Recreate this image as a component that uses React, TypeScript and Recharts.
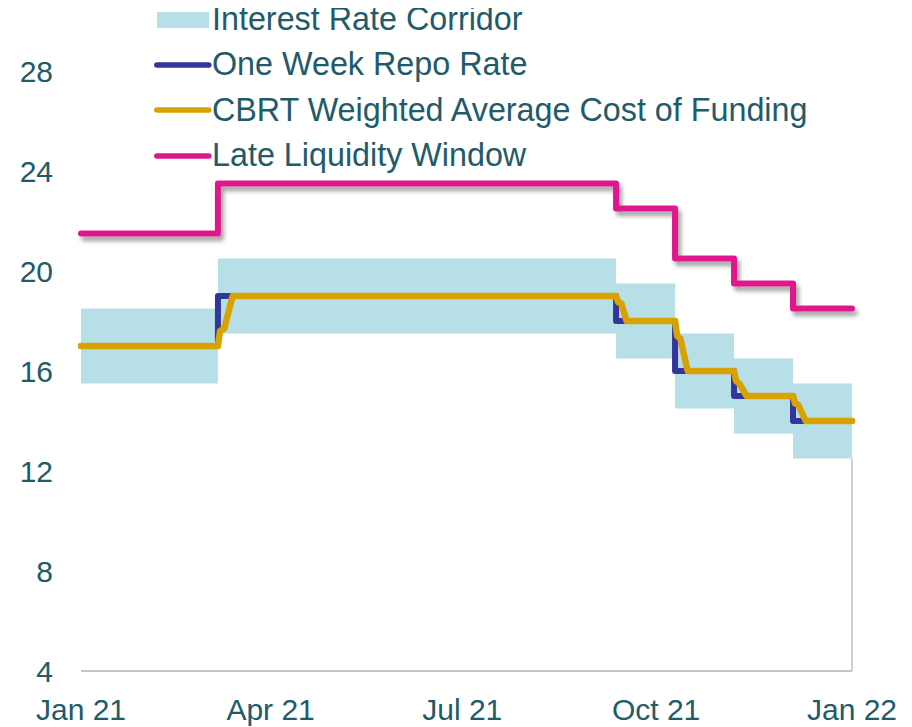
import React from 'react';
import { ComposedChart, Line, Area, XAxis, YAxis, Legend, ReferenceLine } from 'recharts';

// Days counted from the first observation (12 Jan 2021)
const stepDays = [0, 65, 254, 282, 310, 338, 366];
const corridorLow = [15.5, 17.5, 16.5, 14.5, 13.5, 12.5, 12.5];
const corridorHigh = [18.5, 20.5, 19.5, 17.5, 16.5, 15.5, 15.5];
const repoRate = [17, 19, 18, 16, 15, 14, 14];
const lateLiquidityWindow = [21.5, 23.5, 22.5, 20.5, 19.5, 18.5, 18.5];

const wacfDays = [0, 65, 66, 68, 72, 254, 255, 256.5, 259, 282, 283, 284.5, 288, 310, 311, 312.5, 316, 338, 339, 340.5, 344, 366];
const wacfValues = [17, 17, 17.6, 17.7, 19, 19, 18.75, 18.7, 18, 18, 17.4, 17.3, 16, 16, 15.6, 15.5, 15, 15, 14.7, 14.65, 14, 14];

const xTickDays = [0, 90, 181, 273, 366];
const xTickLabels = ['Jan 21', 'Apr 21', 'Jul 21', 'Oct 21', 'Jan 22'];
const yTicks = [4, 8, 12, 16, 20, 24, 28];

const TEXT = '#215b69';
const C_CORRIDOR = '#b7dfe8';
const C_REPO = '#33359a';
const C_WACF = '#d8a300';
const C_LLW = '#e0168f';

const legendItems = [
  { label: 'Interest Rate Corridor', color: C_CORRIDOR, kind: 'rect' },
  { label: 'One Week Repo Rate', color: C_REPO, kind: 'line' },
  { label: 'CBRT Weighted Average Cost of Funding', color: C_WACF, kind: 'line' },
  { label: 'Late Liquidity Window', color: C_LLW, kind: 'line' },
];

const corridorData = stepDays.map((d, i) => ({ day: d, range: [corridorLow[i], corridorHigh[i]] }));
const repoData = stepDays.map((d, i) => ({ day: d, value: repoRate[i] }));
const llwData = stepDays.map((d, i) => ({ day: d, value: lateLiquidityWindow[i] }));
const wacfData = wacfDays.map((d, i) => ({ day: d, value: wacfValues[i] }));

const renderLegend = () => (
  <div style={{ fontFamily: 'Liberation Sans, Arial, sans-serif' }}>
    {legendItems.map((it) => (
      <div key={it.label} style={{ display: 'flex', alignItems: 'center', height: 45.33 }}>
        <svg width={58} height={20} style={{ display: 'block' }}>
          {it.kind === 'rect' ? (
            <rect x={3} y={2} width={52} height={16} fill={it.color} />
          ) : (
            <line x1={2.8} y1={10} x2={54.8} y2={10} stroke={it.color} strokeWidth={5.5} strokeLinecap="round" />
          )}
        </svg>
        <span style={{ fontSize: 32.3, color: TEXT, whiteSpace: 'nowrap' }}>{it.label}</span>
      </div>
    ))}
  </div>
);

export default function App() {
  return (
    <div style={{ fontFamily: 'Liberation Sans, Arial, sans-serif', width: 896, height: 719 }}>
      <style>{`.llw-series .recharts-line-curve { filter: url(#llwShadow); }`}</style>
      <ComposedChart width={896} height={719} margin={{ top: 13, right: 52, bottom: 6, left: 0 }}>
        <defs>
          <filter id="llwShadow" x="-5%" y="-20%" width="110%" height="160%">
            <feDropShadow dx={3} dy={4.5} stdDeviation={2} floodColor="#7a7a7a" floodOpacity={0.7} />
          </filter>
        </defs>
        <XAxis
          type="number"
          dataKey="day"
          domain={[0, 366]}
          ticks={xTickDays}
          tickFormatter={(v) => xTickLabels[xTickDays.indexOf(v)]}
          height={50}
          tickLine={false}
          tickSize={8}
          tickMargin={20}
          axisLine={{ stroke: '#c4c4c4', strokeWidth: 2 }}
          tick={{ fill: TEXT, fontSize: 30 }}
          interval={0}
        />
        <YAxis
          type="number"
          domain={[4, 30]}
          ticks={yTicks}
          width={73}
          axisLine={false}
          tickLine={false}
          tickSize={8}
          tickMargin={20}
          tick={{ fill: TEXT, fontSize: 30 }}
          interval={0}
        />
        <Legend
          layout="vertical"
          align="center"
          verticalAlign="middle"
          content={renderLegend}
          wrapperStyle={{ top: -11, left: 146, width: 'auto' }}
        />
        <Area
          data={corridorData}
          dataKey="range"
          type="stepAfter"
          fill={C_CORRIDOR}
          fillOpacity={1}
          stroke="none"
          isAnimationActive={false}
          dot={false}
          activeDot={false}
        />
        <ReferenceLine
          segment={[{ x: 366, y: 4 }, { x: 366, y: 12.5 }]}
          stroke="#d0d0d0"
          strokeWidth={2}
        />
        <Line
          className="llw-series"
          data={llwData}
          dataKey="value"
          type="stepAfter"
          stroke={C_LLW}
          strokeWidth={6}
          strokeLinecap="round"
          strokeLinejoin="round"
          dot={false}
          activeDot={false}
          isAnimationActive={false}
        />
        <Line
          data={repoData}
          dataKey="value"
          type="stepAfter"
          stroke={C_REPO}
          strokeWidth={6}
          strokeLinecap="round"
          strokeLinejoin="round"
          dot={false}
          activeDot={false}
          isAnimationActive={false}
        />
        <Line
          data={wacfData}
          dataKey="value"
          type="linear"
          stroke={C_WACF}
          strokeWidth={6.5}
          strokeLinecap="round"
          strokeLinejoin="round"
          dot={false}
          activeDot={false}
          isAnimationActive={false}
        />
      </ComposedChart>
    </div>
  );
}
